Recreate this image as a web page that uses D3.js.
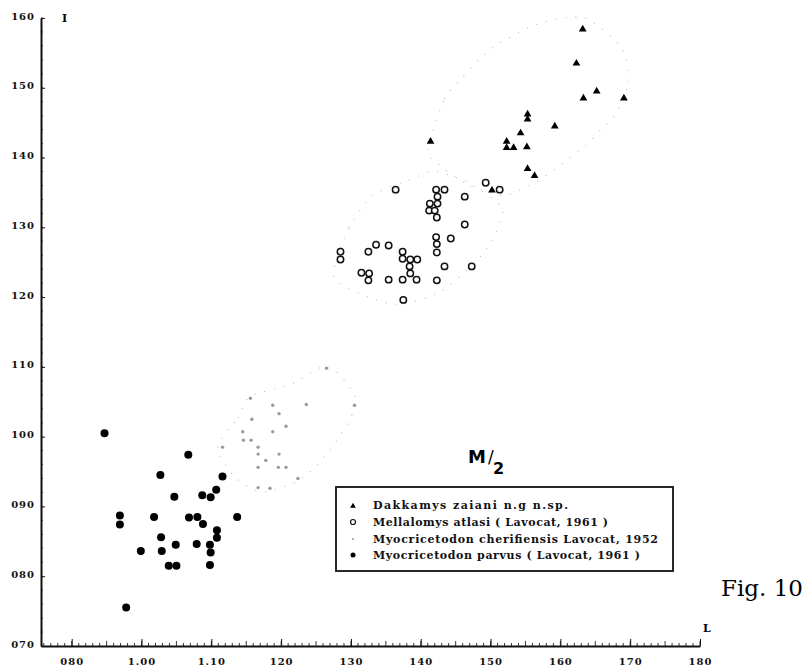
<!DOCTYPE html>
<html>
<head>
<meta charset="utf-8">
<script src="https://cdn.jsdelivr.net/npm/d3@7"></script>
<style>
body { margin:0; background:#fff; }
</style>
</head>
<body>
<svg id="chart" width="810" height="670"></svg>
<script>
// tick values and the labels as printed on the figure
var xTicks = [0.9, 1.0, 1.1, 1.2, 1.3, 1.4, 1.5, 1.6, 1.7, 1.8];
var xTickLabels = ["080", "1.00", "1.10", "120", "130", "140", "150", "160", "170", "180"];
var yTicks = [0.7, 0.8, 0.9, 1.0, 1.1, 1.2, 1.3, 1.4, 1.5, 1.6];
var yTickLabels = ["070", "080", "090", "100", "110", "120", "130", "140", "150", "160"];

// Dakkamys zaiani  [L, l]
var dakkamys = [
  [1.632,1.584],[1.623,1.535],[1.652,1.495],[1.633,1.485],[1.691,1.485],
  [1.553,1.462],[1.553,1.455],[1.592,1.445],[1.543,1.435],[1.523,1.423],
  [1.523,1.414],[1.533,1.414],[1.552,1.415],[1.553,1.384],[1.563,1.374],
  [1.502,1.353],[1.414,1.423]
];
// Mellalomys atlasi
var mellalomys = [
  [1.364,1.354],[1.422,1.354],[1.434,1.354],[1.424,1.344],[1.413,1.334],
  [1.424,1.334],[1.412,1.324],[1.420,1.324],[1.423,1.314],[1.463,1.344],
  [1.493,1.364],[1.513,1.354],[1.463,1.304],[1.422,1.286],[1.443,1.284],
  [1.423,1.276],[1.423,1.264],[1.285,1.265],[1.285,1.254],[1.325,1.265],
  [1.336,1.275],[1.354,1.274],[1.374,1.265],[1.374,1.255],[1.385,1.254],
  [1.395,1.254],[1.384,1.244],[1.385,1.234],[1.434,1.244],[1.473,1.244],
  [1.315,1.235],[1.326,1.234],[1.325,1.224],[1.354,1.225],[1.374,1.225],
  [1.394,1.225],[1.423,1.224],[1.375,1.196]
];
// Myocricetodon cherifiensis
var cherifiensis = [
  [1.265,1.098],[1.236,1.046],[1.305,1.045],[1.188,1.045],[1.197,1.033],
  [1.158,1.025],[1.207,1.015],[1.188,1.007],[1.145,1.007],[1.146,0.995],
  [1.157,0.995],[1.116,0.985],[1.167,0.985],[1.167,0.975],[1.197,0.975],
  [1.178,0.966],[1.167,0.956],[1.196,0.956],[1.207,0.956],[1.167,0.927],
  [1.184,0.926],[1.156,1.055],[1.224,0.940]
];
// Myocricetodon parvus
var parvus = [
  [0.947,1.005],[1.067,0.974],[1.027,0.945],[1.116,0.943],[1.107,0.924],
  [1.047,0.914],[1.087,0.916],[1.099,0.913],[0.969,0.887],[0.969,0.874],
  [1.018,0.885],[1.068,0.884],[1.080,0.885],[1.088,0.875],[1.137,0.885],
  [1.108,0.866],[1.108,0.855],[1.028,0.856],[1.049,0.845],[1.079,0.846],
  [1.098,0.845],[1.099,0.834],[0.999,0.836],[1.029,0.836],[1.039,0.815],
  [1.050,0.815],[1.098,0.816],[0.978,0.755]
];

// dotted envelopes drawn round the groups
var hullDakkamys = [
  [1.410,1.411],[1.434,1.484],[1.456,1.511],[1.485,1.542],[1.513,1.564],
  [1.572,1.593],[1.635,1.600],[1.687,1.558],[1.698,1.511],[1.681,1.465],
  [1.659,1.441],[1.636,1.416],[1.615,1.401],[1.570,1.368],[1.520,1.346],
  [1.470,1.360],[1.427,1.389]
];
var hullMellalomys = [
  [1.278,1.250],[1.297,1.299],[1.330,1.345],[1.377,1.365],[1.417,1.381],
  [1.440,1.375],[1.470,1.363],[1.517,1.327],[1.503,1.283],[1.487,1.260],
  [1.470,1.242],[1.427,1.207],[1.370,1.189],[1.327,1.199],[1.278,1.224]
];
var hullCherifiensis = [
  [1.109,0.984],[1.138,1.027],[1.156,1.058],[1.212,1.074],[1.267,1.101],
  [1.308,1.050],[1.270,0.981],[1.227,0.938],[1.172,0.921],[1.135,0.941]
];

var legendLabels = [
  "Dakkamys zaiani  n.g  n.sp.",
  "Mellalomys atlasi ( Lavocat, 1961 )",
  "Myocricetodon cherifiensis  Lavocat, 1952",
  "Myocricetodon parvus ( Lavocat, 1961 )"
];

function drawChart(id){
  var svg = d3.select(id);
  var serif = "'DejaVu Serif', 'Liberation Serif', serif";
  var x = d3.scaleLinear().domain([0.856, 1.8]).range([41, 700]);
  var y = d3.scaleLinear().domain([0.7, 1.6]).range([646, 18]);

  // minor ticks
  var xMinor = d3.range(0.86, 1.801, 0.01);
  svg.append("g").selectAll("line").data(xMinor).enter().append("line")
    .attr("x1", function(d){ return x(d); }).attr("x2", function(d){ return x(d); })
    .attr("y1", y(0.7)).attr("y2", function(d,i){ return y(0.7) - (Math.round(d*100) % 5 == 0 ? 5 : 3); })
    .attr("stroke", "#222").attr("stroke-width", 0.9);
  var yMinor = d3.range(0.72, 1.6, 0.02);
  svg.append("g").selectAll("line").data(yMinor).enter().append("line")
    .attr("x1", x(0.856)).attr("x2", x(0.856) + 2)
    .attr("y1", function(d){ return y(d); }).attr("y2", function(d){ return y(d); })
    .attr("stroke", "#222").attr("stroke-width", 0.8);

  var xAxis = d3.axisBottom(x).tickValues(xTicks)
    .tickFormat(function(d,i){ return xTickLabels[i]; })
    .tickSizeInner(-7).tickSizeOuter(0).tickPadding(12);
  var gx = svg.append("g").attr("transform", "translate(0," + y(0.7) + ")").call(xAxis);
  var yAxis = d3.axisLeft(y).tickValues(yTicks)
    .tickFormat(function(d,i){ return yTickLabels[i]; })
    .tickSizeInner(-4).tickSizeOuter(0).tickPadding(6);
  var gy = svg.append("g").attr("transform", "translate(" + x(0.856) + ",0)").call(yAxis);
  [gx, gy].forEach(function(g){
    g.select(".domain").attr("stroke", "#111").attr("stroke-width", 2);
    g.selectAll(".tick line").attr("stroke", "#111").attr("stroke-width", 1);
    g.selectAll("text").style("font-family", serif).attr("font-size", 10)
      .attr("font-weight", "bold").attr("letter-spacing", 1).attr("fill", "#111");
  });
  gy.selectAll("text").attr("dy", "0.1em");

  // envelopes, very faint in the print
  var hullLine = d3.line().x(function(d){ return x(d[0]); }).y(function(d){ return y(d[1]); })
    .curve(d3.curveCardinalClosed.tension(0.3));
  [hullDakkamys, hullMellalomys, hullCherifiensis].forEach(function(h){
    svg.append("path").attr("d", hullLine(h)).attr("fill", "none")
      .attr("stroke", "#bbb").attr("stroke-width", 1.1).attr("stroke-dasharray", "1,9");
  });

  svg.append("g").selectAll("circle").data(cherifiensis).enter().append("circle")
    .attr("cx", function(d){ return x(d[0]); }).attr("cy", function(d){ return y(d[1]); })
    .attr("r", 1.7).attr("fill", "#9a9a9a");

  svg.append("g").selectAll("circle").data(parvus).enter().append("circle")
    .attr("cx", function(d){ return x(d[0]); }).attr("cy", function(d){ return y(d[1]); })
    .attr("r", 4).attr("fill", "#000");

  svg.append("g").selectAll("circle").data(mellalomys).enter().append("circle")
    .attr("cx", function(d){ return x(d[0]); }).attr("cy", function(d){ return y(d[1]); })
    .attr("r", 3.2).attr("fill", "#fff").attr("stroke", "#111").attr("stroke-width", 1.5);

  var tri = d3.symbol().type(d3.symbolTriangle).size(26);
  svg.append("g").selectAll("path").data(dakkamys).enter().append("path")
    .attr("d", tri)
    .attr("transform", function(d){ return "translate(" + x(d[0]) + "," + y(d[1]) + ")"; })
    .attr("fill", "#000");

  // legend
  var lg = svg.append("g");
  lg.append("rect").attr("x", 336).attr("y", 487).attr("width", 337).attr("height", 84)
    .attr("fill", "#fff").attr("stroke", "#111").attr("stroke-width", 1.8);
  var rowY = [505, 522, 539, 555];
  var rowW = [195, 235, 285, 267];
  lg.selectAll("text.leg").data(legendLabels).enter().append("text")
    .attr("class", "leg")
    .attr("x", 373).attr("y", function(d,i){ return rowY[i] + 4; })
    .style("font-family", serif).attr("font-size", 11).attr("font-weight", "bold").attr("fill", "#111")
    .attr("textLength", function(d,i){ return rowW[i]; }).attr("lengthAdjust", "spacing")
    .text(function(d){ return d; });
  lg.append("path").attr("d", d3.symbol().type(d3.symbolTriangle).size(14))
    .attr("transform", "translate(353," + (rowY[0] + 1) + ")").attr("fill", "#000");
  lg.append("circle").attr("cx", 353).attr("cy", rowY[1]).attr("r", 2.5)
    .attr("fill", "none").attr("stroke", "#111").attr("stroke-width", 1.2);
  lg.append("circle").attr("cx", 353).attr("cy", rowY[2]).attr("r", 1).attr("fill", "#999");
  lg.append("circle").attr("cx", 353).attr("cy", rowY[3]).attr("r", 2.5).attr("fill", "#000");

  // annotations
  svg.append("text").attr("x", 62).attr("y", 22).style("font-family", serif)
    .attr("font-size", 11).attr("font-weight", "bold").text("I");
  svg.append("text").attr("x", 703).attr("y", 632).style("font-family", serif)
    .attr("font-size", 11).attr("font-weight", "bold").text("L");
  var sans = "'DejaVu Sans', Arial, sans-serif";
  svg.append("text").attr("x", 468).attr("y", 463).style("font-family", sans)
    .attr("font-size", 18).attr("font-weight", "bold").text("M");
  svg.append("text").attr("x", 488).attr("y", 463).style("font-family", sans)
    .attr("font-size", 17).text("/");
  svg.append("text").attr("x", 493).attr("y", 474).style("font-family", sans)
    .attr("font-size", 16).attr("font-weight", "bold").text("2");
  svg.append("text").attr("x", 721).attr("y", 596).style("font-family", serif)
    .attr("font-size", 23).text("Fig. 10");
}

drawChart("#chart");
</script>
</body>
</html>
